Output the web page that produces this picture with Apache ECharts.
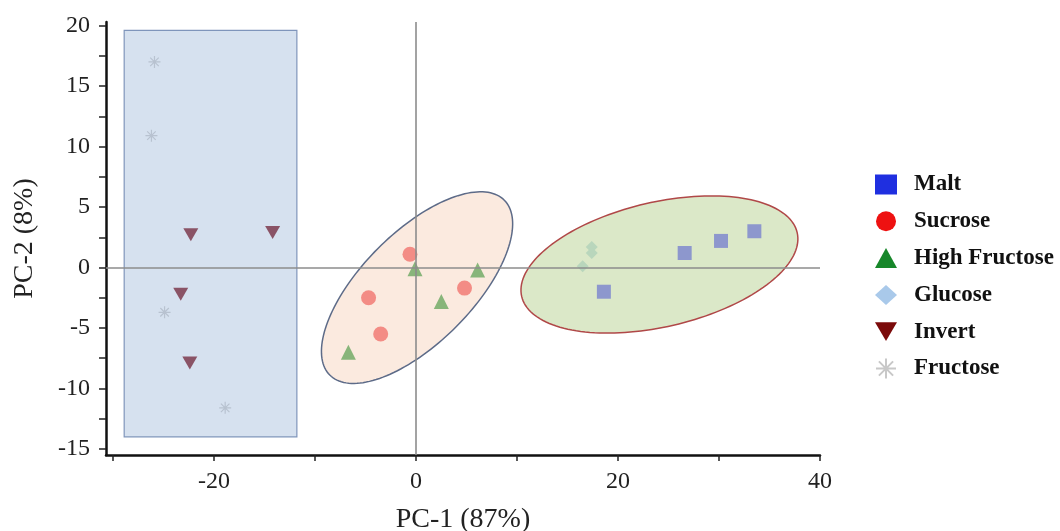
<!DOCTYPE html>
<html>
<head>
<meta charset="utf-8">
<script src="https://cdn.jsdelivr.net/npm/echarts@6/dist/echarts.min.js"></script>
<style>
html,body{margin:0;padding:0;background:#fff;}
#chart{width:1060px;height:531px;}
</style>
</head>
<body>
<div id="chart"></div>
<script>
// ---- data ----
const categories = ['Malt', 'Sucrose', 'High Fructose', 'Glucose', 'Invert', 'Fructose'];
const malt = [[26.6, 1.2], [30.2, 2.2], [33.5, 3.0], [18.6, -2.0]];
const sucrose = [[-0.6, 1.1], [-4.7, -2.5], [-3.5, -5.5], [4.8, -1.7]];
const highFructose = [[-0.1, -0.1], [6.1, -0.2], [2.5, -2.8], [-6.7, -7.0]];
const glucose = [[17.4, 1.7], [17.4, 1.2], [16.5, 0.1]];
const invert = [[-22.3, 2.7], [-14.2, 2.9], [-23.3, -2.2], [-22.4, -7.9]];
const fructose = [[-25.9, 17.0], [-26.2, 10.9], [-24.9, -3.7], [-18.9, -11.6]];

const xTickValues = [-30, -20, -10, 0, 10, 20, 30, 40];
const xTickLabels = [-20, 0, 20, 40];
const yTickValues = [-15, -12.5, -10, -7.5, -5, -2.5, 0, 2.5, 5, 7.5, 10, 12.5, 15, 17.5, 20];
const yTickLabels = [-15, -10, -5, 0, 5, 10, 15, 20];

// group outlines in data units: box corners, ellipse centre + conjugate semi-axes
const fructoseBox = [[-28.9, 19.6], [-11.8, -14.0]];
const sucroseEllipse = { center: [0.1, -1.66], u: [8.64, 7.23], v: [3.87, -3.24] };
const maltEllipse = { center: [24.1, 0.25], u: [13.64, 2.64], v: [1.39, -5.02] };

// ---- styling ----
const SERIF = "'Liberation Serif', 'Times New Roman', serif";
const ASTERISK = 'path://M9,0h2v20h-2z M0,9h20v2h-20z M2.2,3.6l1.4,-1.4l14.2,14.2l-1.4,1.4z M16.4,2.2l1.4,1.4l-14.2,14.2l-1.4,-1.4z';
const DOWN_TRI = 'path://M0,0L20,0L10,17z';

function ellipseSeries(e, fill, stroke) {
  return {
    type: 'custom', silent: true, z: 1, clip: false,
    data: [e.center], encode: { x: 0, y: 1 },
    renderItem: function (params, api) {
      const pts = [];
      for (let i = 0; i <= 160; i++) {
        const t = i / 160 * 2 * Math.PI;
        const c = Math.cos(t), s = Math.sin(t);
        pts.push(api.coord([
          e.center[0] + e.u[0] * c + e.v[0] * s,
          e.center[1] + e.u[1] * c + e.v[1] * s
        ]));
      }
      return { type: 'polygon', shape: { points: pts }, style: { fill: fill, stroke: stroke, lineWidth: 1.5 } };
    }
  };
}

function boxSeries(b, fill, stroke) {
  return {
    type: 'custom', silent: true, z: 1, clip: false,
    data: [b[0]], encode: { x: 0, y: 1 },
    renderItem: function (params, api) {
      const p1 = api.coord(b[0]);
      const p2 = api.coord(b[1]);
      return { type: 'rect', shape: { x: p1[0], y: p1[1], width: p2[0] - p1[0], height: p2[1] - p1[1] },
        style: { fill: fill, stroke: stroke, lineWidth: 1.2 } };
    }
  };
}

const chart = echarts.init(document.getElementById('chart'), null, { renderer: 'canvas' });

const option = {
  backgroundColor: '#ffffff',
  animation: false,
  grid: { left: 106, right: 240, top: 22, bottom: 76, containLabel: false, outerBoundsMode: 'none' },
  xAxis: {
    type: 'value', min: -30.7, max: 40,
    name: 'PC-1 (87%)', nameLocation: 'middle', nameGap: 51,
    nameTextStyle: { fontFamily: SERIF, fontSize: 28, color: '#222' },
    axisLine: { show: true, onZero: false, lineStyle: { color: '#111', width: 2.5 } },
    axisTick: { show: true, length: 6, customValues: xTickValues, lineStyle: { color: '#222', width: 1.5 } },
    axisLabel: { customValues: xTickLabels, fontFamily: SERIF, fontSize: 24, color: '#222', margin: 15 },
    splitLine: { show: false }
  },
  yAxis: {
    type: 'value', min: -15.5, max: 20.3,
    name: 'PC-2 (8%)', nameLocation: 'middle', nameGap: 67,
    nameTextStyle: { fontFamily: SERIF, fontSize: 28, color: '#222' },
    axisLine: { show: true, onZero: false, lineStyle: { color: '#111', width: 2.5 } },
    axisTick: { show: true, length: 7, customValues: yTickValues, lineStyle: { color: '#222', width: 1.5 } },
    axisLabel: { customValues: yTickLabels, fontFamily: SERIF, fontSize: 24, color: '#222', margin: 16 },
    splitLine: { show: false }
  },
  legend: {
    orient: 'vertical', left: 870, top: 168,
    itemWidth: 22, itemHeight: 20, itemGap: 13.8,
    textStyle: { fontFamily: SERIF, fontSize: 23, fontWeight: 'bold', color: '#111', padding: [0, 0, 0, 12] },
    data: [
      { name: categories[0], icon: 'rect', itemStyle: { color: '#1f2fe0', opacity: 1 } },
      { name: categories[1], icon: 'circle', itemStyle: { color: '#ee1111', opacity: 1 } },
      { name: categories[2], icon: 'triangle', itemStyle: { color: '#17872a', opacity: 1 } },
      { name: categories[3], icon: 'diamond', itemStyle: { color: '#a9c9ea', opacity: 1 } },
      { name: categories[4], icon: DOWN_TRI, itemStyle: { color: '#7b0a0a', opacity: 1 } },
      { name: categories[5], icon: ASTERISK, itemStyle: { color: '#c8c8c8', opacity: 1 } }
    ]
  },
  series: [
    boxSeries(fructoseBox, '#d6e1ef', '#7f95bb'),
    ellipseSeries(sucroseEllipse, '#fbeadf', '#5d6b88'),
    ellipseSeries(maltEllipse, '#dbe8c8', '#b04848'),
    {
      type: 'scatter', name: '__zero', silent: true, z: 2, data: [],
      markLine: {
        silent: true, symbol: 'none', label: { show: false },
        lineStyle: { color: '#8c8c8c', width: 1.6, type: 'solid' },
        data: [{ xAxis: 0 }, { yAxis: 0 }]
      }
    },
    { type: 'scatter', name: categories[0], z: 3, data: malt, symbol: 'rect', symbolSize: 14, itemStyle: { color: '#8d97cd', opacity: 1 } },
    { type: 'scatter', name: categories[1], z: 3, data: sucrose, symbol: 'circle', symbolSize: 15, itemStyle: { color: '#f38c85', opacity: 1 } },
    { type: 'scatter', name: categories[2], z: 3, data: highFructose, symbol: 'triangle', symbolSize: 15, itemStyle: { color: '#88b57a', opacity: 1 } },
    { type: 'scatter', name: categories[3], z: 3, data: glucose, symbol: 'diamond', symbolSize: 12, itemStyle: { color: '#b9d6bc', opacity: 1 } },
    { type: 'scatter', name: categories[4], z: 3, data: invert, symbol: DOWN_TRI, symbolSize: [15, 13], itemStyle: { color: '#8a5366', opacity: 1 } },
    { type: 'scatter', name: categories[5], z: 3, data: fructose, symbol: ASTERISK, symbolSize: 12, itemStyle: { color: '#b8c2d0', opacity: 1 } }
  ]
};
chart.setOption(option);
</script>
</body>
</html>
